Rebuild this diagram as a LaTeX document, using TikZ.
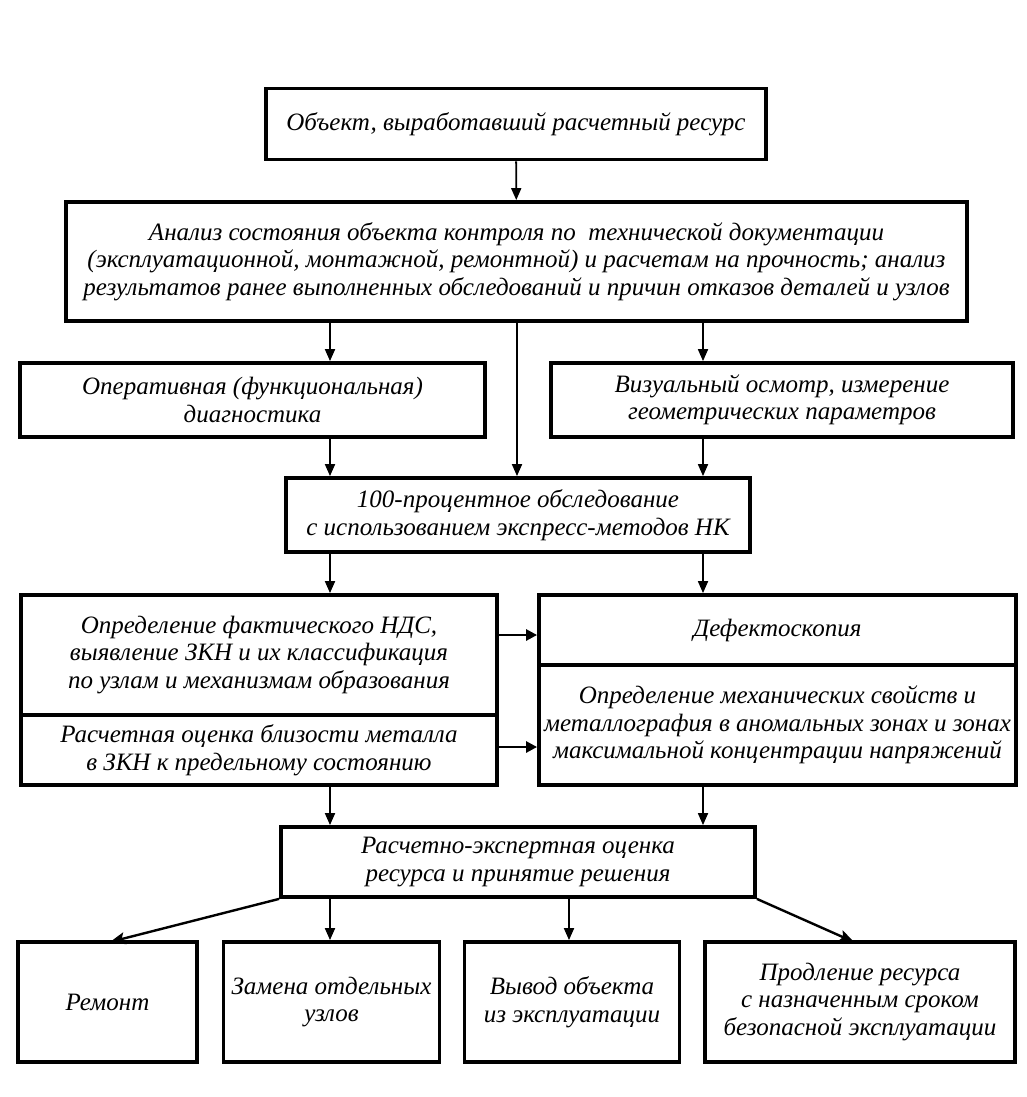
\documentclass[tikz,border=0pt]{standalone}
\usepackage{fontspec}
\setmainfont{Liberation Serif}
\usetikzlibrary{arrows.meta}
\begin{document}
\begin{tikzpicture}[x=1pt,y=-1pt,
  box/.style={draw,line width=3.8pt,align=center,inner sep=0pt,
    font=\itshape\fontsize{25}{27.5}\selectfont},
  arr/.style={line width=1.8pt,-{Triangle[length=12pt,width=10pt]}},
  arrh/.style={line width=2.6pt,-{Triangle[length=11pt,width=11pt]}},
  arrb/.style={line width=2.4pt,-{Stealth[length=15pt,width=12pt,inset=3pt]}}]
\useasboundingbox (0,0) rectangle (1027,1097);
% geometry helper coordinates
\coordinate (xl) at (330,0);
\coordinate (xm) at (517,0);
\coordinate (xr) at (703,0);
\coordinate (xb3) at (569,0);
% boxes
\node[box,minimum width=500pt,minimum height=71pt] (top) at (516,124) {Объект, выработавший расчетный ресурс};
\node[box,minimum width=901pt,minimum height=119pt] (an) at (516.5,261.5) {Анализ состояния объекта контроля по~~технической документации\\(эксплуатационной, монтажной, ремонтной) и расчетам на прочность; анализ\\результатов ранее выполненных обследований и причин отказов деталей и узлов};
\node[box,minimum width=465pt,minimum height=74pt] (op) at (252.5,400) {Оперативная (функциональная)\\диагностика};
\node[box,minimum width=462pt,minimum height=74pt] (vis) at (782,400) {Визуальный осмотр, измерение\\геометрических параметров};
\node[box,minimum width=464pt,minimum height=74pt] (hun) at (518,515) {100-процентное обследование\\с использованием экспресс-методов НК};
\node[box,minimum width=476pt,minimum height=120pt] (lt) at (259,655) {Определение фактического НДС,\\выявление ЗКН и их классификация\\по узлам и механизмам образования};
\node[box,minimum width=476pt,minimum height=70pt] (lb) at (259,750) {Расчетная оценка близости металла\\в ЗКН к предельному состоянию};
\node[box,minimum width=477pt,minimum height=70pt] (rt) at (777.5,630) {Дефектоскопия};
\node[box,minimum width=477pt,minimum height=120pt] (rb) at (777.5,725) {Определение механических свойств и\\металлография в аномальных зонах и зонах\\максимальной концентрации напряжений};
\node[box,minimum width=474pt,minimum height=70pt] (res) at (518,862) {Расчетно-экспертная оценка\\ресурса и принятие решения};
\node[box,minimum width=179pt,minimum height=120pt] (rem) at (107.5,1002) {Ремонт};
\node[box,minimum width=216pt,minimum height=120pt] (zam) at (331.5,1002) {Замена отдельных\\узлов};
\node[box,minimum width=215pt,minimum height=120pt] (vyv) at (572,1002) {Вывод объекта\\из эксплуатации};
\node[box,minimum width=310pt,minimum height=120pt] (pro) at (860,1002) {Продление ресурса\\с назначенным сроком\\безопасной эксплуатации};
\coordinate (remtop) at (110,942);
\coordinate (protop) at (854,942);
% connectors
\draw[arr] (top) -- (an);
\draw[arr] (an.south -| xl) -- (op.north -| xl);
\draw[arr] (an.south -| xr) -- (vis.north -| xr);
\draw[arr] (an.south -| xm) -- (hun.north -| xm);
\draw[arr] (op.south -| xl) -- (hun.north -| xl);
\draw[arr] (vis.south -| xr) -- (hun.north -| xr);
\draw[arr] (hun.south -| xl) -- (lt.north -| xl);
\draw[arr] (hun.south -| xr) -- (rt.north -| xr);
\draw[arrh] ([yshift=-5pt]lt.east |- rt) -- ([yshift=-5pt]rt.west);
\draw[arrh] ([yshift=3pt]lb.east) -- ([yshift=3pt]lb.east -| rb.west);
\draw[arr] (lb.south -| xl) -- (res.north -| xl);
\draw[arr] (rb.south -| xr) -- (res.north -| xr);
\draw[arrb] (res.south west) -- (remtop);
\draw[arr] (res.south -| xl) -- (zam.north -| xl);
\draw[arr] (res.south -| xb3) -- (vyv.north -| xb3);
\draw[arrb] (res.south east) -- (protop);
\end{tikzpicture}
\end{document}
